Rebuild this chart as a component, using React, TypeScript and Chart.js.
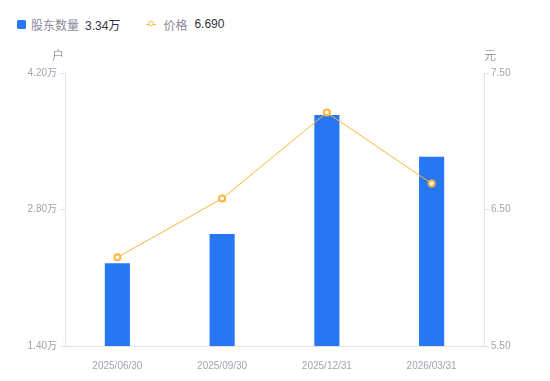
import React, { useEffect, useRef } from "react";
import { Chart, registerables } from "chart.js";

Chart.register(...registerables);

const categories = ["2025/06/30", "2025/09/30", "2025/12/31", "2026/03/31"];
const holders = [2.25, 2.55, 3.77, 3.34]; // 万户
const prices = [6.15, 6.58, 7.21, 6.69]; // 元
const leftTicks = [1.4, 2.8, 4.2];
const rightTicks = [5.5, 6.5, 7.5];

const FONT = '"Liberation Sans", Arial, "Noto Sans CJK SC", sans-serif';
const BLUE = "#2777f5";
const ORANGE = "#f9b43c";
const TICK_COLOR = "#a3a3b3";
const AXIS_COLOR = "#e3e3e8";

const unitPlugin = {
  id: "units",
  afterDraw(chart: any) {
    const { ctx, chartArea } = chart;
    ctx.save();
    ctx.font = `12px ${FONT}`;
    ctx.fillStyle = "#9a9aaa";
    ctx.textAlign = "center";
    ctx.textBaseline = "middle";
    ctx.fillText("户", chartArea.left - 7, chartArea.top - 16);
    ctx.fillText("元", chartArea.right + 6, chartArea.top - 16);
    ctx.restore();
  },
};

export default function App() {
  const ref = useRef<HTMLCanvasElement | null>(null);
  useEffect(() => {
    if (!ref.current) return;
    const chart = new Chart(ref.current, {
      type: "bar",
      data: {
        labels: categories,
        datasets: [
          {
            type: "line",
            label: "价格",
            data: prices,
            yAxisID: "y1",
            borderColor: ORANGE,
            borderWidth: 1,
            backgroundColor: "#ffffff",
            pointBackgroundColor: "#ffffff",
            pointBorderColor: ORANGE,
            pointBorderWidth: 2,
            pointRadius: 3,
            tension: 0,
            order: 0,
          } as any,
          {
            type: "bar",
            label: "股东数量",
            data: holders,
            yAxisID: "y",
            backgroundColor: BLUE,
            barPercentage: 0.24,
            categoryPercentage: 1,
            order: 1,
          },
        ],
      },
      options: {
        animation: false,
        responsive: false,
        maintainAspectRatio: false,
        layout: { padding: { top: 73, left: 0, right: 0, bottom: 0 } },
        plugins: { legend: { display: false }, tooltip: { enabled: false } },
        scales: {
          x: {
            offset: true,
            grid: { display: false },
            border: { display: true, color: AXIS_COLOR },
            ticks: { color: TICK_COLOR, font: { size: 10, family: FONT }, padding: 6, maxRotation: 0 },
            afterFit(s: any) { s.height = 35; },
          },
          y: {
            position: "left",
            min: 1.4,
            max: 4.2,
            afterBuildTicks(s: any) { s.ticks = leftTicks.map((v) => ({ value: v })); },
            grid: { display: true, drawOnChartArea: false, drawTicks: true, tickLength: 5, color: AXIS_COLOR },
            border: { display: true, color: AXIS_COLOR },
            ticks: {
              color: TICK_COLOR,
              font: { size: 10, family: FONT },
              padding: 3,
              callback: (v: any) => Number(v).toFixed(2) + "万",
            },
            afterFit(s: any) { s.width = 65; },
          },
          y1: {
            position: "right",
            min: 5.5,
            max: 7.5,
            afterBuildTicks(s: any) { s.ticks = rightTicks.map((v) => ({ value: v })); },
            grid: { display: true, drawOnChartArea: false, drawTicks: true, tickLength: 5, color: AXIS_COLOR },
            border: { display: true, color: AXIS_COLOR },
            ticks: {
              color: TICK_COLOR,
              font: { size: 10, family: FONT },
              padding: 2,
              callback: (v: any) => Number(v).toFixed(2),
            },
            afterFit(s: any) { s.width = 66; },
          },
        },
      },
      plugins: [unitPlugin],
    });
    return () => chart.destroy();
  }, []);

  return (
    <div style={{ position: "fixed", left: 0, top: 0, width: 550, height: 381, background: "#fff", fontFamily: FONT }}>
      <div style={{ position: "absolute", left: 17, top: 16, height: 16, display: "flex", alignItems: "center", fontSize: 12, whiteSpace: "nowrap" }}>
        <span style={{ display: "inline-block", width: 9, height: 9, background: BLUE, borderRadius: 1.5, marginRight: 5 }} />
        <span style={{ color: "#8a8a9a" }}>股东数量</span>
        <span style={{ color: "#333340", marginLeft: 6 }}>3.34万</span>
        <span style={{ position: "relative", display: "inline-block", width: 10, height: 10, marginLeft: 26, marginRight: 7 }}>
          <span style={{ position: "absolute", left: 0, top: 4.5, width: 10, height: 1, background: ORANGE }} />
          <span style={{ position: "absolute", left: 2, top: 1.5, width: 3.5, height: 3.5, border: `1.5px solid ${ORANGE}`, borderRadius: "50%", background: "#fff" }} />
        </span>
        <span style={{ color: "#8a8a9a" }}>价格</span>
        <span style={{ color: "#333340", marginLeft: 7 }}>6.690</span>
      </div>
      <canvas ref={ref} width={550} height={381} style={{ position: "absolute", left: 0, top: 0, width: 550, height: 381 }} />
    </div>
  );
}
